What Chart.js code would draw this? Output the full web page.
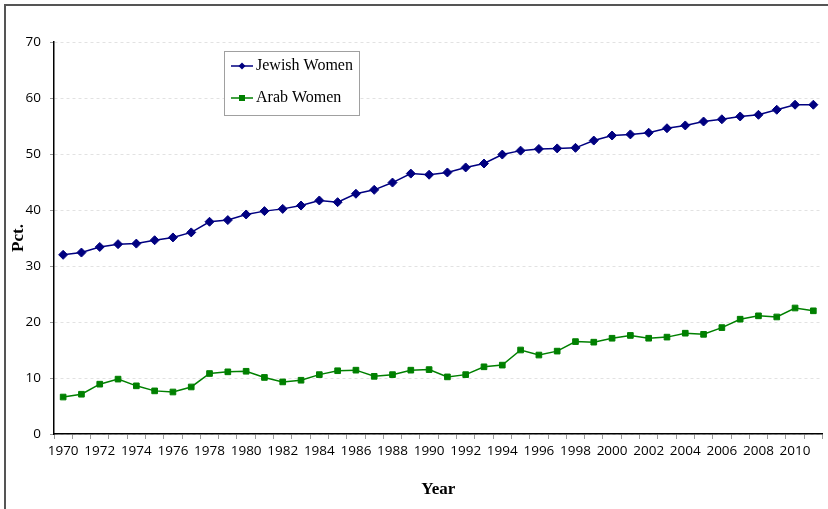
<!DOCTYPE html>
<html>
<head>
<meta charset="utf-8">
<title>Women employment rate</title>
<script src="https://cdn.jsdelivr.net/npm/chart.js@4.4.1/dist/chart.umd.min.js"></script>
<style>
  html, body { margin: 0; padding: 0; background: #fff; overflow: hidden; }
  #wrap { position: relative; width: 828px; height: 509px; }
  #frame {
    position: absolute; left: 4px; top: 4px; width: 1000px; height: 1000px;
    border: 2px solid #555; pointer-events: none;
  }
</style>
</head>
<body>
<div id="wrap">
  <canvas id="chart" width="828" height="509"></canvas>
  <div id="frame"></div>
</div>
<script>
const years = [];
for (let y = 1970; y <= 2011; y++) years.push(String(y));

const jewishWomen = [
  32.0, 32.4, 33.4, 33.9, 34.0, 34.6, 35.1, 36.0, 37.9, 38.2,
  39.2, 39.8, 40.2, 40.8, 41.7, 41.4, 42.9, 43.6, 44.9, 46.5,
  46.3, 46.7, 47.6, 48.3, 49.9, 50.6, 50.9, 51.0, 51.1, 52.4,
  53.3, 53.5, 53.8, 54.6, 55.1, 55.8, 56.2, 56.7, 57.0, 57.9,
  58.8, 58.8
];

const arabWomen = [
  6.6, 7.1, 8.9, 9.8, 8.6, 7.7, 7.5, 8.4, 10.8, 11.1,
  11.2, 10.1, 9.3, 9.6, 10.6, 11.3, 11.4, 10.3, 10.6, 11.4,
  11.5, 10.2, 10.6, 12.0, 12.3, 15.0, 14.1, 14.8, 16.5, 16.4,
  17.1, 17.6, 17.1, 17.3, 18.0, 17.8, 19.0, 20.5, 21.1, 20.9,
  22.5, 22.0
];

const seriesNames = ["Jewish Women", "Arab Women"];
const yTicks = [0, 10, 20, 30, 40, 50, 60, 70];

// legend box drawn inside the plot area, like the original
const boxLegend = {
  id: "boxLegend",
  afterDraw(chart) {
    const ctx = chart.ctx;
    const x = 224, y = 51, w = 135, h = 64;
    ctx.save();
    ctx.fillStyle = "#fff";
    ctx.fillRect(x, y, w, h);
    ctx.strokeStyle = "#a0a0a0";
    ctx.lineWidth = 1;
    ctx.strokeRect(x + 0.5, y + 0.5, w, h);
    ctx.font = "16px 'Liberation Serif', 'Times New Roman', serif";
    ctx.textBaseline = "middle";
    chart.data.datasets.forEach((ds, i) => {
      const cy = y + 15 + i * 32;
      ctx.strokeStyle = ds.borderColor;
      ctx.lineWidth = 1.5;
      ctx.beginPath();
      ctx.moveTo(x + 7, cy);
      ctx.lineTo(x + 29, cy);
      ctx.stroke();
      ctx.fillStyle = ds.backgroundColor;
      ctx.beginPath();
      if (ds.pointStyle === "rectRot") {
        ctx.moveTo(x + 18, cy - 3.5);
        ctx.lineTo(x + 21.5, cy);
        ctx.lineTo(x + 18, cy + 3.5);
        ctx.lineTo(x + 14.5, cy);
        ctx.closePath();
      } else {
        ctx.rect(x + 15, cy - 3, 6, 6);
      }
      ctx.fill();
      ctx.fillStyle = "#000";
      ctx.fillText(ds.label, x + 32, cy);
    });
    ctx.restore();
  }
};

new Chart(document.getElementById("chart"), {
  type: "line",
  data: {
    labels: years,
    datasets: [
      {
        label: seriesNames[0],
        data: jewishWomen,
        borderColor: "#000080",
        backgroundColor: "#000080",
        borderWidth: 1.5,
        pointStyle: "rectRot",
        pointRadius: 4.5,
        pointBorderWidth: 1,
        tension: 0
      },
      {
        label: seriesNames[1],
        data: arabWomen,
        borderColor: "#008000",
        backgroundColor: "#008000",
        borderWidth: 1.5,
        pointStyle: "rect",
        pointRadius: 4,
        pointBorderWidth: 1,
        tension: 0
      }
    ]
  },
  options: {
    responsive: false,
    animation: false,
    layout: { padding: { top: 42, right: 5, left: 4, bottom: 0 } },
    plugins: {
      legend: { display: false },
      tooltip: { enabled: false }
    },
    scales: {
      x: {
        offset: true,
        afterFit: (scale) => { scale.height = 75; },
        border: { color: "#000", width: 1.5 },
        grid: {
          offset: true,
          drawOnChartArea: false,
          drawTicks: true,
          tickLength: 5,
          tickColor: "#999"
        },
        ticks: {
          autoSkip: false,
          maxRotation: 0,
          padding: 4,
          color: "#000",
          font: { family: "'Open Sans', sans-serif", size: 13.5 },
          callback: function (val, idx) {
            return idx % 2 === 0 ? this.getLabelForValue(val) : "";
          }
        },
        title: {
          display: true,
          text: "Year",
          color: "#000",
          padding: { top: 0, bottom: 9 },
          font: { family: "'Liberation Serif', serif", size: 17, weight: "bold" }
        }
      },
      y: {
        min: 0,
        max: 70,
        afterFit: (scale) => { scale.width = 50; },
        afterBuildTicks: (scale) => { scale.ticks = yTicks.map(v => ({ value: v })); },
        border: { color: "#000", width: 1.5, dash: [3, 3] },
        grid: {
          color: "#e2e2e2",
          drawTicks: true,
          tickLength: 4,
          tickColor: "#999",
          tickBorderDash: []
        },
        ticks: {
          padding: 9,
          color: "#000",
          font: { family: "'Open Sans', sans-serif", size: 13.5 }
        },
        title: {
          display: true,
          text: "Pct.",
          color: "#000",
          padding: { top: 4, bottom: 0 },
          font: { family: "'Liberation Serif', serif", size: 17, weight: "bold" }
        }
      }
    }
  },
  plugins: [boxLegend]
});
</script>
</body>
</html>
